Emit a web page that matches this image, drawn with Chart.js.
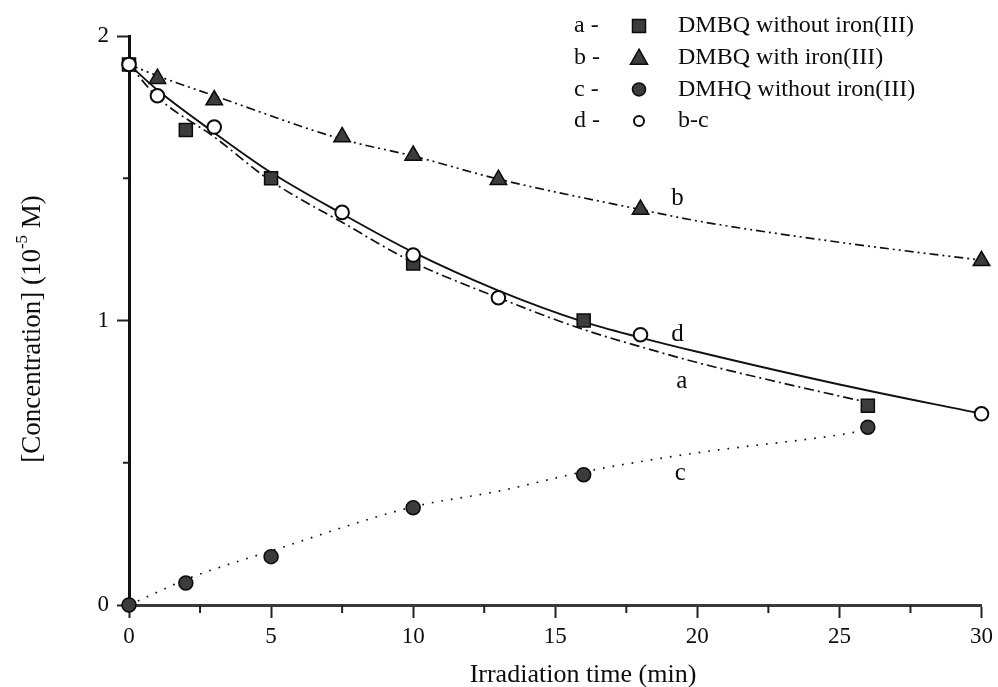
<!DOCTYPE html>
<html>
<head>
<meta charset="utf-8">
<script src="https://cdn.jsdelivr.net/npm/chart.js@4.4.1/dist/chart.umd.min.js"></script>
<style>
  html, body { margin: 0; padding: 0; background: #ffffff; }
  #wrap { width: 998px; height: 687px; }
</style>
</head>
<body>
<div id="wrap"><canvas id="chart" width="998" height="687"></canvas></div>
<script>
// Measured concentrations (10^-5 M) against irradiation time (min)
const timeA = [0, 2, 5, 10, 16, 26];
const concA = [1.90, 1.67, 1.50, 1.20, 1.00, 0.70];          // DMBQ without iron(III)

const timeB = [1, 3, 7.5, 10, 13, 18, 30];
const concB = [1.85, 1.775, 1.645, 1.58, 1.495, 1.39, 1.21];   // DMBQ with iron(III)

const timeC = [0, 2, 5, 10, 16, 26];
const concC = [0, 0.077, 0.17, 0.342, 0.458, 0.625];          // DMHQ without iron(III)

const timeD = [0, 1, 3, 7.5, 10, 13, 18, 30];
const concD = [1.90, 1.79, 1.68, 1.38, 1.23, 1.08, 0.95, 0.672]; // b - c

// Fitted trend curves
const fitTimeA = [0, 1, 3, 5, 7.5, 10, 13, 16, 18, 20, 23, 26];
const fitConcA = [1.90, 1.785, 1.645, 1.49, 1.345, 1.205, 1.08, 0.968, 0.908, 0.852, 0.78, 0.712];

const fitTimeB = [0, 1, 3, 7.5, 10, 13, 18, 20, 25, 30];
const fitConcB = [1.90, 1.86, 1.79, 1.637, 1.578, 1.497, 1.39, 1.35, 1.275, 1.212];

const fitTimeC = [0, 1, 2, 5, 10, 13, 16, 20, 25, 25.8];
const fitConcC = [0, 0.045, 0.09, 0.19, 0.345, 0.40, 0.468, 0.535, 0.598, 0.612];

const fitTimeD = [0, 1, 3, 5, 7.5, 10, 13, 16, 18, 20, 25, 30];
const fitConcD = [1.90, 1.81, 1.66, 1.52, 1.375, 1.24, 1.105, 0.995, 0.94, 0.89, 0.775, 0.672];

// Axis ticks
const xTicks = [0, 5, 10, 15, 20, 25, 30];
const xMinorTicks = [2.5, 7.5, 12.5, 17.5, 22.5, 27.5];
const yTicks = [0, 1, 2];
const yMinorTicks = [0.5, 1.5];

// Legend entries
const seriesKeys = ['a', 'b', 'c', 'd'];
const seriesNames = ['DMBQ without iron(III)', 'DMBQ with iron(III)', 'DMHQ without iron(III)', 'b-c'];

const SERIF = "'Liberation Serif', 'Times New Roman', Times, serif";
const INK = '#0d0d0d';
const MARK_FILL = '#3c3c3c';
const MARK_EDGE = '#0a0a0a';

const pairs = (xs, ys) => xs.map((x, i) => ({ x: x, y: ys[i] }));

function fitLine(xs, ys, dash, width) {
  return {
    data: pairs(xs, ys),
    showLine: true,
    borderColor: '#111111',
    borderWidth: width,
    borderDash: dash,
    pointRadius: 0,
    pointHoverRadius: 0,
    cubicInterpolationMode: 'monotone',
    fill: false,
    clip: false,
    order: 3
  };
}

function markers(xs, ys, style, radius, filled, order) {
  return {
    data: pairs(xs, ys),
    showLine: false,
    borderWidth: 0,
    pointStyle: style,
    pointRadius: radius,
    pointHoverRadius: radius,
    pointBackgroundColor: filled ? MARK_FILL : '#ffffff',
    pointBorderColor: MARK_EDGE,
    pointBorderWidth: filled ? 1.5 : 2,
    clip: false,
    order: order
  };
}

// Short minor tick marks on both axes
const minorTickPlugin = {
  id: 'minorTicks',
  afterDraw(chart) {
    const { ctx, scales: { x, y }, chartArea } = chart;
    ctx.save();
    ctx.strokeStyle = '#222222';
    ctx.lineWidth = 2;
    xMinorTicks.forEach(v => {
      const px = x.getPixelForValue(v);
      ctx.beginPath();
      ctx.moveTo(px, chartArea.bottom);
      ctx.lineTo(px, chartArea.bottom + 8);
      ctx.stroke();
    });
    yMinorTicks.forEach(v => {
      const py = y.getPixelForValue(v);
      ctx.beginPath();
      ctx.moveTo(chartArea.left, py);
      ctx.lineTo(chartArea.left - 6, py);
      ctx.stroke();
    });
    ctx.restore();
  }
};

// Axis titles (the y title carries a superscript exponent)
const axisTitlePlugin = {
  id: 'axisTitles',
  afterDraw(chart) {
    const { ctx, chartArea } = chart;
    ctx.save();
    ctx.fillStyle = INK;
    ctx.textBaseline = 'middle';

    ctx.font = '26px ' + SERIF;
    ctx.textAlign = 'center';
    ctx.fillText('Irradiation time (min)', chartArea.left + 454, 675);

    const main = '27px ' + SERIF;
    const sup = '17px ' + SERIF;
    const parts = [
      { t: '[Concentration] (10', f: main, dy: 0 },
      { t: '-5', f: sup, dy: -10 },
      { t: ' M)', f: main, dy: 0 }
    ];
    let total = 0;
    parts.forEach(p => { ctx.font = p.f; p.w = ctx.measureText(p.t).width; total += p.w; });
    ctx.translate(33, 329);
    ctx.rotate(-Math.PI / 2);
    ctx.textAlign = 'left';
    let cx = -total / 2;
    parts.forEach(p => {
      ctx.font = p.f;
      ctx.fillText(p.t, cx, p.dy);
      cx += p.w;
    });
    ctx.restore();
  }
};

// Letters naming each curve, anchored in data coordinates
const curveTagPlugin = {
  id: 'curveTags',
  afterDraw(chart, args, opts) {
    const { ctx, scales: { x, y } } = chart;
    ctx.save();
    ctx.fillStyle = INK;
    ctx.font = '25px ' + SERIF;
    ctx.textAlign = 'center';
    ctx.textBaseline = 'middle';
    opts.tags.forEach(tag => {
      ctx.fillText(tag.text, x.getPixelForValue(tag.x), y.getPixelForValue(tag.y));
    });
    ctx.restore();
  }
};

function drawLegendMarker(ctx, kind, cx, cy) {
  ctx.save();
  ctx.fillStyle = MARK_FILL;
  ctx.strokeStyle = MARK_EDGE;
  ctx.lineWidth = 1.5;
  ctx.beginPath();
  if (kind === 0) {
    ctx.rect(cx - 6.5, cy - 6.5, 13, 13);
    ctx.fill(); ctx.stroke();
  } else if (kind === 1) {
    ctx.moveTo(cx, cy - 8.5);
    ctx.lineTo(cx + 8.5, cy + 6.5);
    ctx.lineTo(cx - 8.5, cy + 6.5);
    ctx.closePath();
    ctx.fill(); ctx.stroke();
  } else if (kind === 2) {
    ctx.arc(cx, cy, 6.5, 0, Math.PI * 2);
    ctx.fill(); ctx.stroke();
  } else {
    ctx.lineWidth = 2;
    ctx.fillStyle = '#ffffff';
    ctx.arc(cx, cy, 5, 0, Math.PI * 2);
    ctx.fill(); ctx.stroke();
  }
  ctx.restore();
}

const keyPlugin = {
  id: 'keyBox',
  afterDraw(chart) {
    const { ctx } = chart;
    ctx.save();
    ctx.font = '24px ' + SERIF;
    ctx.textBaseline = 'middle';
    ctx.textAlign = 'left';
    seriesKeys.forEach((k, i) => {
      const rowY = 26 + i * 31.7;
      ctx.fillStyle = INK;
      ctx.fillText(k + ' -', 574, rowY);
      drawLegendMarker(ctx, i, 639, rowY);
      ctx.fillStyle = INK;
      ctx.fillText(seriesNames[i], 678, rowY);
    });
    ctx.restore();
  }
};

Chart.defaults.font.family = SERIF;
Chart.defaults.color = INK;

new Chart(document.getElementById('chart'), {
  type: 'line',
  data: {
    datasets: [
      fitLine(fitTimeA, fitConcA, [10, 4, 2, 4], 1.7),
      fitLine(fitTimeB, fitConcB, [9, 4, 2, 4, 2, 4], 1.7),
      fitLine(fitTimeC, fitConcC, [1.7, 8], 1.7),
      fitLine(fitTimeD, fitConcD, [], 1.9),
      markers(timeA, concA, 'rect', 9.2, true, 2),
      markers(timeB, concB, 'triangle', 9.5, true, 1),
      markers(timeC, concC, 'circle', 7, true, 1),
      markers(timeD, concD, 'circle', 6.8, false, 0)
    ]
  },
  options: {
    responsive: false,
    animation: false,
    devicePixelRatio: 1,
    layout: { padding: { left: 0, right: 15, top: 36, bottom: 0 } },
    plugins: {
      legend: { display: false },
      tooltip: { enabled: false },
      curveTags: {
        tags: [
          { text: 'b', x: 19.3, y: 1.43 },
          { text: 'd', x: 19.3, y: 0.95 },
          { text: 'a', x: 19.45, y: 0.787 },
          { text: 'c', x: 19.4, y: 0.464 }
        ]
      }
    },
    scales: {
      x: {
        type: 'linear',
        min: 0,
        max: 30,
        afterBuildTicks: s => { s.ticks = xTicks.map(v => ({ value: v })); },
        afterFit: s => { s.height = 82; },
        ticks: {
          font: { size: 23, family: SERIF },
          color: INK,
          padding: 5,
          maxRotation: 0,
          callback: v => String(v)
        },
        grid: {
          drawOnChartArea: false,
          drawTicks: true,
          tickLength: 13,
          tickWidth: 2,
          tickColor: '#222222'
        },
        border: { display: true, color: '#3a3a3a', width: 3 }
      },
      y: {
        type: 'linear',
        min: 0,
        max: 2,
        afterBuildTicks: s => { s.ticks = yTicks.map(v => ({ value: v })); },
        afterFit: s => { s.width = 129; },
        ticks: {
          font: { size: 23, family: SERIF },
          color: INK,
          padding: 8,
          callback: v => String(v)
        },
        grid: {
          drawOnChartArea: false,
          drawTicks: true,
          tickLength: 12,
          tickWidth: 2,
          tickColor: '#222222'
        },
        border: { display: true, color: '#111111', width: 3 }
      }
    }
  },
  plugins: [minorTickPlugin, axisTitlePlugin, curveTagPlugin, keyPlugin]
});
</script>
</body>
</html>
